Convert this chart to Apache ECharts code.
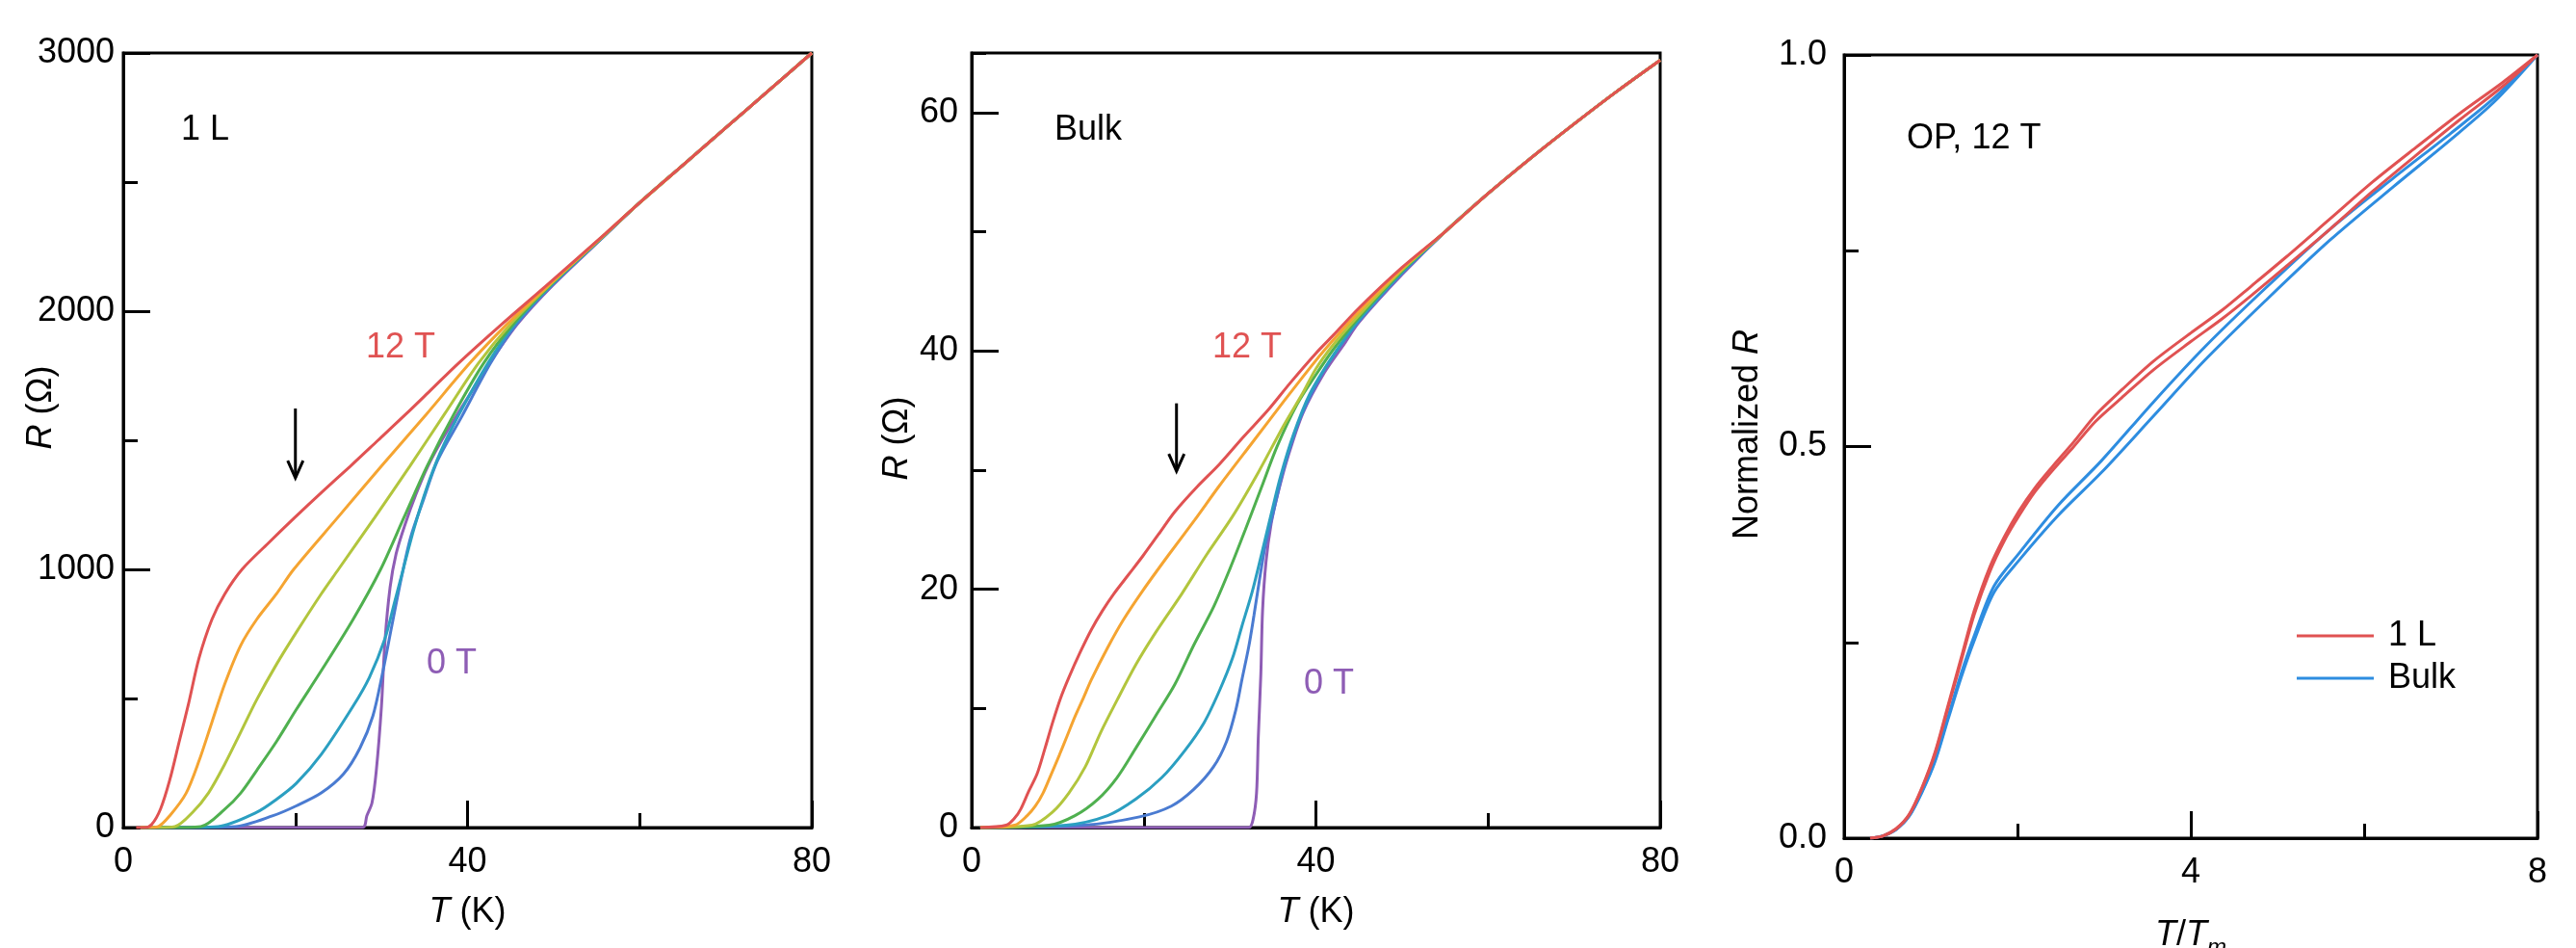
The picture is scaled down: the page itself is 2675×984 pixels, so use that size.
<!DOCTYPE html>
<html>
<head>
<meta charset="utf-8">
<script src="https://cdn.jsdelivr.net/npm/echarts@6.0.0/dist/echarts.min.js"></script>
<style>
html, body { margin: 0; padding: 0; background: #fff; }
#main { width: 2675px; height: 984px; }
</style>
</head>
<body>
<div id="main"></div>
<script>
// ---- 1 L sample, R (ohm) vs T (K), fields 0 T ... 12 T ----
let tail1L = [[60, 2420], [65, 2565], [70, 2710], [75, 2855], [80, 3000]];
let mono12T = [[1.5, 0], [2.5, 0], [3.3, 12], [4.33, 72], [5.4, 184], [6.5, 333], [7.6, 482], [8.8, 656], [10.3, 806], [11.8, 905], [13.8, 1000], [16.8, 1100], [19.9, 1200], [23.1, 1300], [26.4, 1400], [29.6, 1500], [32.8, 1600], [35.9, 1700], [39.0, 1800], [44.0, 1950], [49.2, 2100], [56, 2300]];
let mono10T = [[2, 0], [3, 0], [4, 3], [5.4, 46], [7.3, 133], [8.8, 258], [10.3, 408], [11.8, 557], [13.65, 706], [15.5, 806], [17.8, 905], [19.8, 1000], [24.9, 1200], [30.0, 1400], [35.2, 1600], [40.3, 1800], [44.6, 1950], [49.4, 2100], [56, 2299]];
let mono8T = [[2, 0], [4, 0], [6, 4], [8.05, 59], [9.9, 134], [11.8, 246], [13.65, 370], [15.5, 495], [17.8, 632], [20.1, 756], [23, 905], [25.0, 1000], [29.2, 1200], [33.3, 1400], [37.3, 1600], [41.3, 1800], [45.0, 1950], [49.5, 2100], [56, 2298]];
let mono6T = [[2, 0], [5, 0], [9, 4], [11.8, 71], [13.65, 134], [15.5, 221], [17.8, 333], [20.1, 457], [23, 607], [26.7, 806], [29.9, 1000], [32.6, 1200], [35.3, 1400], [38.4, 1600], [41.9, 1800], [45.3, 1950], [49.6, 2100], [56, 2297]];
let mono4T = [[2, 0], [6, 0], [11, 4], [15.5, 59], [17.8, 109], [20.1, 171], [23, 283], [26.7, 470], [28.6, 582], [30.4, 731], [31.5, 870], [32.6, 1010], [33.8, 1160], [35.2, 1310], [36.8, 1450], [39.0, 1600], [42.4, 1800], [45.5, 1950], [49.7, 2100], [56, 2296]];
let mono2T = [[2, 0], [7, 0], [13, 4], [17.4, 46], [20.1, 84], [23, 134], [25.6, 208], [27.5, 308], [29, 432], [30.1, 594], [31.2, 781], [32.3, 965], [33.4, 1125], [34.8, 1262], [36.5, 1420], [39.3, 1590], [42.7, 1800], [45.7, 1950], [49.8, 2100], [56, 2295]];
let mono0T = [[2, 0], [27.8, 0], [28.3, 46], [28.9, 96], [29.4, 221], [30.0, 470], [30.4, 719], [31.0, 930], [31.7, 1060], [32.7, 1170], [34.0, 1290], [35.4, 1400], [37.0, 1500], [38.8, 1600], [40.7, 1700], [42.6, 1800], [45.8, 1950], [49.9, 2100], [56, 2294]];

// ---- bulk sample, R (ohm) vs T (K) ----
let tailBulk = [[55, 50.0], [60, 53.2], [65, 56.2], [70, 59.05], [75, 61.8], [80, 64.4]];
let bulk12T = [[1, 0], [4, 0.2], [5, 0.8], [5.7, 1.55], [6.6, 3], [7.6, 4.5], [8.5, 6.6], [9.4, 8.8], [10.3, 10.8], [11.3, 12.6], [12.6, 14.7], [13.9, 16.6], [15.2, 18.2], [16.5, 19.6], [18.2, 21.2], [19.9, 22.8], [21.7, 24.6], [23.6, 26.5], [26.2, 28.6], [28.8, 30.5], [31.6, 32.8], [34.4, 35.0], [37, 37.3], [40, 39.8], [42, 41.3], [45, 43.6], [50, 47.0]];
let bulk10T = [[1, 0], [5, 0.2], [6.45, 1], [7.4, 1.8], [8.3, 2.9], [9.2, 4.4], [10.2, 6.1], [11.1, 7.7], [12, 9.3], [13, 10.9], [13.9, 12.4], [15.8, 15.1], [17.6, 17.4], [19.9, 19.9], [22.9, 22.9], [25.9, 25.8], [28.8, 28.7], [32.6, 32.3], [36.3, 35.8], [40, 39.2], [42, 40.9], [45, 43.3], [50, 46.9]];
let bulk8T = [[1, 0], [7, 0.2], [9.4, 1.3], [11.3, 2.9], [13.2, 5.1], [15, 8.0], [16.9, 10.7], [19.1, 13.7], [21.4, 16.4], [24.4, 19.6], [27.3, 22.9], [30.3, 26.1], [33.3, 29.8], [36.3, 33.8], [38.5, 36.5], [40, 38.5], [42, 40.5], [45, 43.0], [50, 46.8]];
let bulk6T = [[1, 0], [9, 0.2], [12, 1.0], [14.7, 2.4], [16.9, 4.2], [19.1, 6.7], [21.4, 9.4], [23.6, 12], [25.8, 15.3], [28.1, 18.5], [30, 21.7], [31.8, 25.0], [33.7, 28.6], [35.5, 32.0], [37.8, 35.5], [40, 38.0], [42, 40.1], [45, 42.8], [50, 46.7]];
let bulk4T = [[1, 0], [11, 0.2], [15.8, 1.0], [19.1, 2.4], [22.1, 4.2], [24.7, 6.4], [27, 8.8], [28.8, 11.5], [30.3, 14.2], [31.4, 16.9], [32.6, 19.8], [33.7, 23.0], [34.8, 26.3], [35.9, 29.5], [37.4, 33.0], [39.3, 36.4], [41.9, 39.5], [45, 42.6], [50, 46.6]];
let bulk2T = [[1, 0], [13, 0.2], [19.5, 0.9], [23.2, 1.8], [25.8, 3.2], [28.1, 5.1], [29.6, 7.2], [30.7, 9.9], [31.4, 12.4], [32.2, 15.2], [32.8, 17.8], [33.4, 20.6], [34.1, 23.6], [35, 26.3], [36.3, 30.2], [38.2, 34.4], [40.8, 38.2], [43, 40.6], [45, 42.5], [50, 46.5]];
let bulk0T = [[1, 0], [32.2, 0], [32.7, 0.7], [33.1, 2.9], [33.3, 7.5], [33.6, 12.9], [33.8, 18.2], [34.2, 22.3], [34.8, 25.5], [35.5, 27.8], [36.7, 31.0], [38.5, 34.8], [41, 38.2], [43.3, 40.6], [45, 42.4], [50, 46.4]];

// ---- normalized R vs T/Tm at 12 T (two traces per sample) ----
let norm1La = [[0.3, 0], [0.45, 0.003], [0.6, 0.012], [0.75, 0.03], [0.9, 0.065], [1.05, 0.11], [1.2, 0.17], [1.35, 0.23], [1.5, 0.29], [1.68, 0.346], [1.85, 0.385], [2.02, 0.418], [2.2, 0.447], [2.4, 0.474], [2.65, 0.506], [2.9, 0.54], [3.2, 0.572], [3.57, 0.609], [4, 0.645], [4.36, 0.674], [4.7, 0.705], [5.1, 0.742], [5.6, 0.79], [6.1, 0.838], [6.6, 0.882], [7.1, 0.925], [7.6, 0.965], [8, 1]];
let norm1Lb = [[0.3, 0], [0.45, 0.003], [0.6, 0.012], [0.75, 0.03], [0.9, 0.064], [1.05, 0.108], [1.2, 0.167], [1.35, 0.226], [1.5, 0.285], [1.68, 0.34], [1.85, 0.38], [2.02, 0.412], [2.2, 0.442], [2.4, 0.469], [2.65, 0.5], [2.9, 0.532], [3.2, 0.562], [3.57, 0.598], [4, 0.634], [4.36, 0.663], [4.7, 0.693], [5.1, 0.73], [5.6, 0.777], [6.1, 0.826], [6.6, 0.872], [7.1, 0.917], [7.6, 0.96], [8, 1]];
let normBulkA = [[0.3, 0], [0.45, 0.003], [0.6, 0.011], [0.75, 0.028], [0.9, 0.06], [1.05, 0.1], [1.2, 0.155], [1.35, 0.21], [1.5, 0.258], [1.73, 0.322], [2.02, 0.364], [2.47, 0.425], [2.97, 0.482], [3.57, 0.557], [4.16, 0.627], [4.86, 0.702], [5.6, 0.777], [6.34, 0.843], [7, 0.9], [7.5, 0.945], [8, 1]];
let normBulkB = [[0.3, 0], [0.45, 0.003], [0.6, 0.011], [0.75, 0.028], [0.9, 0.059], [1.05, 0.098], [1.2, 0.152], [1.35, 0.205], [1.5, 0.252], [1.73, 0.314], [2.02, 0.355], [2.47, 0.412], [2.97, 0.467], [3.57, 0.539], [4.16, 0.61], [4.86, 0.686], [5.6, 0.763], [6.34, 0.832], [7, 0.892], [7.5, 0.94], [8, 1]];

let fieldColors = ['#8e5db5', '#4a7bd1', '#2b9fc1', '#4fb04f', '#b2c53d', '#f5a431', '#e05252'];
let arrow1L = [20, 1623, 1354];     // T, R top, R tip
let arrowBulk = [23.8, 35.6, 29.9];

const FONT = 'Liberation Sans';
const F = 36;

function curve(data, color, xi, yi, name) {
    return {
        type: 'line', name: name, data: data, xAxisIndex: xi, yAxisIndex: yi,
        showSymbol: false, symbol: 'none', smooth: 0.3,
        lineStyle: {color: color, width: 3}, itemStyle: {color: color},
        animation: false, silent: true
    };
}

function plain(v) { return String(v); }

function xAx(gi, max, interval, name, gap) {
    return {
        gridIndex: gi, type: 'value', min: 0, max: max, interval: interval,
        axisLine: {lineStyle: {color: '#000', width: 3}},
        axisTick: {inside: true, length: 28, lineStyle: {color: '#000', width: 3}},
        minorTick: {show: true, splitNumber: 2, length: 15, lineStyle: {color: '#000', width: 3}},
        splitLine: {show: false},
        axisLabel: {fontSize: F, color: '#000', fontFamily: FONT, margin: 18, formatter: plain},
        name: name, nameLocation: 'middle', nameGap: gap, nameMoveOverlap: false,
        nameTextStyle: {fontSize: F, color: '#000', fontFamily: FONT,
            rich: {i: {fontStyle: 'italic', fontSize: F, fontFamily: FONT, color: '#000'},
                   s: {fontStyle: 'italic', fontSize: 24, fontFamily: FONT, color: '#000', padding: [26, 0, 0, 0]}}}
    };
}

function yAx(gi, max, interval, margin, fmt) {
    return {
        gridIndex: gi, type: 'value', min: 0, max: max, interval: interval, position: 'left',
        axisLine: {lineStyle: {color: '#000', width: 3}},
        axisTick: {inside: true, length: 28, lineStyle: {color: '#000', width: 3}},
        minorTick: {show: true, splitNumber: 2, length: 15, lineStyle: {color: '#000', width: 3}},
        splitLine: {show: false},
        axisLabel: {fontSize: F, color: '#000', fontFamily: FONT, margin: margin, formatter: fmt || plain}
    };
}

let yBulk = yAx(1, 65, 20, 14);
yBulk.minorTick = {show: false};
yBulk.axisLabel.showMaxLabel = false;
let yBulkMinor = {
    gridIndex: 1, type: 'value', min: 0, max: 65, interval: 10, position: 'left',
    axisLine: {show: false},
    axisTick: {inside: true, length: 15, lineStyle: {color: '#000', width: 3}},
    axisLabel: {show: false}, splitLine: {show: false}
};

let chart = echarts.init(document.getElementById('main'));
let frame = {show: true, borderColor: '#000', borderWidth: 3, backgroundColor: 'transparent',
    containLabel: false, outerBoundsMode: 'none'};

let series = [];
let mono = [mono0T, mono2T, mono4T, mono6T, mono8T, mono10T, mono12T];
let bulk = [bulk0T, bulk2T, bulk4T, bulk6T, bulk8T, bulk10T, bulk12T];
mono.forEach(function (d, i) { series.push(curve(d.concat(tail1L), fieldColors[i], 0, 0, 'm' + i)); });
bulk.forEach(function (d, i) { series.push(curve(d.concat(tailBulk), fieldColors[i], 1, 1, 'b' + i)); });
series.push(curve(normBulkB, '#2e8de0', 2, 3, 'Bulk'));
series.push(curve(normBulkA, '#2e8de0', 2, 3, 'Bulk'));
series.push(curve(norm1Lb, '#e05252', 2, 3, '1 L'));
series.push(curve(norm1La, '#e05252', 2, 3, '1 L'));

chart.setOption({
    animation: false,
    grid: [
        Object.assign({left: 128, top: 55, width: 715, height: 804}, frame),
        Object.assign({left: 1009, top: 55, width: 715, height: 804}, frame),
        Object.assign({left: 1915, top: 57, width: 720, height: 813}, frame)
    ],
    xAxis: [
        xAx(0, 80, 40, '{i|T} (K)', 70),
        xAx(1, 80, 40, '{i|T} (K)', 70),
        xAx(2, 8, 4, '{i|T}/{i|T}{s|m}', 76)
    ],
    yAxis: [
        yAx(0, 3000, 1000, 9),
        yBulk,
        yBulkMinor,
        yAx(2, 1, 0.5, 18, function (v) { return v.toFixed(1); })
    ],
    legend: {
        data: ['1 L', 'Bulk'], orient: 'vertical', left: 2380, top: 637,
        icon: 'rect', itemWidth: 80, itemHeight: 3, itemGap: 8,
        textStyle: {fontSize: F, color: '#000', fontFamily: FONT, padding: [0, 0, 0, 10]},
        selectedMode: false
    },
    series: series
});

let font = F + 'px "' + FONT + '"';
let richI = {i: {fontStyle: 'italic', fontSize: F, fontFamily: FONT, fill: '#000'}};

function txt(x, y, s, color) {
    return {type: 'text', x: x, y: y, silent: true,
        style: {text: s, fill: color || '#000', font: font, align: 'left', verticalAlign: 'middle'}};
}

function ytitle(x, y, s) {
    return {type: 'text', x: x, y: y, rotation: Math.PI / 2, silent: true,
        style: {text: s, fill: '#000', font: font, rich: richI, align: 'center', verticalAlign: 'middle'}};
}

function arrow(gi, a) {
    let yi = gi === 0 ? 0 : 1;
    let top = chart.convertToPixel({xAxisIndex: gi, yAxisIndex: yi}, [a[0], a[1]]);
    let tip = chart.convertToPixel({xAxisIndex: gi, yAxisIndex: yi}, [a[0], a[2]]);
    return [
        {type: 'line', silent: true, shape: {x1: top[0], y1: top[1], x2: tip[0], y2: tip[1]}, style: {stroke: '#000', lineWidth: 3}},
        {type: 'polyline', silent: true, shape: {points: [[tip[0] - 8, tip[1] - 18], [tip[0], tip[1]], [tip[0] + 8, tip[1] - 18]]},
            style: {stroke: '#000', lineWidth: 3, fill: null}}
    ];
}

let g = [
    txt(188, 135, '1 L'),
    txt(1095, 135, 'Bulk'),
    txt(1980, 144, 'OP, 12 T'),
    txt(380, 361, '12 T', '#e05252'),
    txt(1259, 361, '12 T', '#e05252'),
    txt(443, 689, '0 T', '#8e5db5'),
    txt(1354, 710, '0 T', '#8e5db5'),
    ytitle(43, 423, '{i|R} (\u03a9)'),
    ytitle(932, 455, '{i|R} (\u03a9)'),
    ytitle(1815, 451, 'Normalized {i|R}')
].concat(arrow(0, arrow1L), arrow(1, arrowBulk));

chart.setOption({graphic: g});
</script>
</body>
</html>
